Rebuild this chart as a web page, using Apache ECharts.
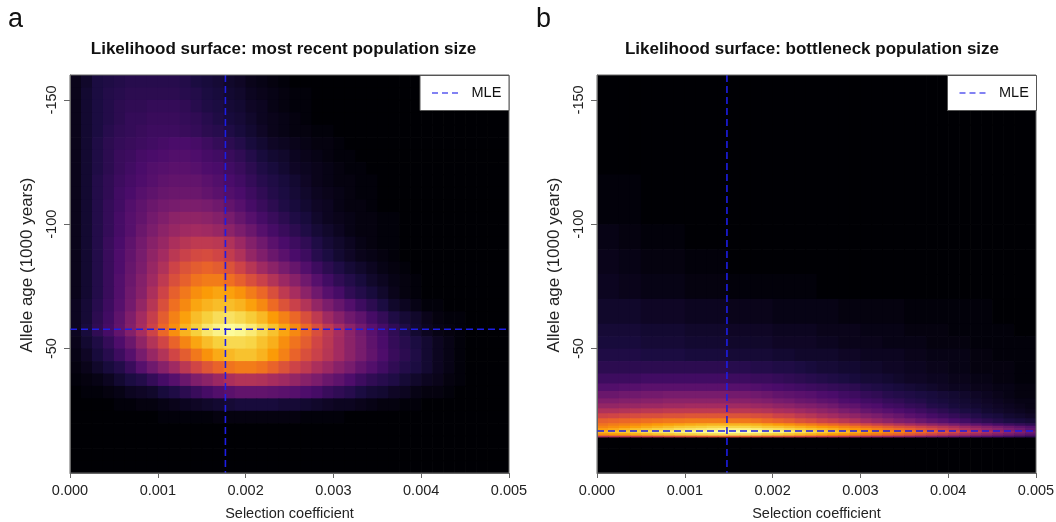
<!DOCTYPE html>
<html lang="en">
<head>
    <meta charset="UTF-8">
    <title>Likelihood surfaces</title>
    <script src="https://cdn.jsdelivr.net/npm/echarts@6/dist/echarts.min.js"></script>
    <style>
        body {
            margin: 0;
            background: #fff;
        }
        #main {
            width: 1056px;
            height: 522px;
        }
    </style>
</head>
<body>
<div id="main"></div>

<script>
    // cell edges on the selection coefficient axis (both panels)
    const selEdges = [0, 0.000125, 0.00025, 0.000375, 0.0005, 0.000625, 0.00075, 0.000875, 0.001,
        0.001125, 0.00125, 0.001375, 0.0015, 0.001625, 0.00175, 0.001875, 0.002,
        0.002125, 0.00225, 0.002375, 0.0025, 0.002625, 0.00275, 0.002875, 0.003,
        0.003125, 0.00325, 0.003375, 0.0035, 0.003625, 0.00375, 0.003875, 0.004,
        0.004125, 0.00425, 0.004375, 0.0045, 0.004625, 0.00475, 0.004875, 0.005];

    // cell edges on the allele age axis, panel a
    const ageEdgesA = [-160, -155, -150, -145, -140, -135, -130, -125, -120, -115, -110, -105, -100, -95, -90, -85,
        -80, -75, -70, -65, -60, -55, -50, -45, -40, -35, -30, -25, -20, -15, -10, -5, 0];

    // panel a: relative likelihood (0 - 100), rows from oldest to youngest
    const surfaceA = [
        [4, 7, 11, 12, 13, 14, 14, 14, 14, 14, 13, 11, 10, 9, 7, 6, 4, 3, 2, 1, 0, 0, 0, 0, 0, 0, 0, 0, 0, 0, 0, 0, 0, 0, 0, 0, 0, 0, 0, 0],
        [4, 8, 11, 13, 14, 15, 15, 15, 15, 15, 14, 13, 11, 10, 8, 7, 5, 4, 3, 2, 1, 1, 0, 0, 0, 0, 0, 0, 0, 0, 0, 0, 0, 0, 0, 0, 0, 0, 0, 0],
        [4, 8, 11, 13, 15, 16, 16, 17, 17, 17, 16, 14, 12, 11, 9, 8, 6, 5, 3, 2, 1, 1, 0, 0, 0, 0, 0, 0, 0, 0, 0, 0, 0, 0, 0, 0, 0, 0, 0, 0],
        [4, 8, 11, 13, 15, 17, 17, 18, 18, 18, 17, 16, 14, 12, 10, 9, 7, 5, 4, 3, 2, 1, 0, 0, 0, 0, 0, 0, 0, 0, 0, 0, 0, 0, 0, 0, 0, 0, 0, 0],
        [4, 8, 11, 14, 16, 17, 18, 19, 19, 19, 18, 17, 15, 14, 12, 10, 8, 6, 4, 3, 2, 2, 1, 1, 0, 0, 0, 0, 0, 0, 0, 0, 0, 0, 0, 0, 0, 0, 0, 0],
        [4, 8, 12, 15, 17, 18, 19, 20, 21, 22, 22, 21, 19, 17, 15, 13, 10, 8, 6, 5, 4, 3, 2, 2, 1, 0, 0, 0, 0, 0, 0, 0, 0, 0, 0, 0, 0, 0, 0, 0],
        [4, 8, 12, 15, 18, 19, 21, 22, 23, 24, 24, 23, 21, 20, 18, 16, 13, 10, 8, 7, 5, 4, 3, 2, 1, 1, 0, 0, 0, 0, 0, 0, 0, 0, 0, 0, 0, 0, 0, 0],
        [4, 8, 12, 15, 18, 20, 22, 24, 25, 26, 26, 25, 23, 22, 20, 18, 15, 12, 10, 8, 6, 5, 4, 3, 2, 1, 1, 0, 0, 0, 0, 0, 0, 0, 0, 0, 0, 0, 0, 0],
        [4, 8, 13, 16, 19, 21, 23, 25, 27, 28, 28, 28, 26, 24, 22, 20, 17, 14, 12, 10, 8, 6, 4, 3, 2, 2, 1, 1, 0, 0, 0, 0, 0, 0, 0, 0, 0, 0, 0, 0],
        [4, 8, 13, 16, 20, 22, 25, 27, 29, 30, 30, 30, 28, 26, 24, 22, 19, 16, 13, 11, 9, 7, 5, 4, 3, 2, 1, 1, 0, 0, 0, 0, 0, 0, 0, 0, 0, 0, 0, 0],
        [4, 8, 13, 17, 20, 24, 27, 30, 32, 33, 34, 34, 33, 31, 28, 25, 21, 18, 15, 12, 10, 8, 6, 5, 3, 2, 2, 1, 0, 0, 0, 0, 0, 0, 0, 0, 0, 0, 0, 0],
        [4, 8, 13, 17, 21, 25, 28, 32, 35, 38, 39, 39, 38, 36, 33, 29, 25, 21, 18, 15, 12, 10, 7, 5, 4, 3, 2, 2, 1, 1, 0, 0, 0, 0, 0, 0, 0, 0, 0, 0],
        [4, 8, 13, 17, 21, 25, 30, 34, 38, 41, 43, 44, 43, 41, 38, 34, 30, 25, 21, 18, 15, 12, 9, 7, 5, 3, 2, 2, 1, 1, 0, 0, 0, 0, 0, 0, 0, 0, 0, 0],
        [4, 8, 13, 18, 22, 27, 32, 37, 41, 46, 49, 51, 51, 50, 47, 42, 36, 31, 26, 22, 19, 16, 12, 9, 7, 5, 3, 2, 1, 1, 0, 0, 0, 0, 0, 0, 0, 0, 0, 0],
        [4, 8, 13, 18, 23, 28, 33, 39, 44, 50, 54, 57, 58, 56, 52, 47, 40, 35, 30, 26, 22, 19, 14, 11, 8, 6, 4, 3, 2, 1, 0, 0, 0, 0, 0, 0, 0, 0, 0, 0],
        [4, 8, 13, 18, 23, 29, 34, 41, 47, 55, 60, 63, 65, 63, 60, 55, 49, 43, 38, 33, 29, 24, 19, 15, 12, 9, 7, 5, 3, 2, 1, 0, 0, 0, 0, 0, 0, 0, 0, 0],
        [4, 8, 13, 18, 24, 30, 36, 43, 51, 59, 64, 69, 71, 71, 68, 64, 59, 54, 48, 42, 37, 31, 25, 20, 16, 13, 10, 7, 5, 3, 2, 1, 0, 0, 0, 0, 0, 0, 0, 0],
        [4, 8, 13, 18, 24, 31, 37, 46, 55, 64, 70, 75, 78, 80, 79, 76, 71, 66, 59, 51, 45, 38, 31, 25, 21, 16, 13, 10, 7, 4, 2, 1, 0, 0, 0, 0, 0, 0, 0, 0],
        [5, 9, 14, 19, 25, 32, 40, 49, 59, 68, 74, 80, 83, 85, 85, 83, 79, 74, 67, 60, 54, 48, 40, 34, 29, 24, 19, 15, 11, 7, 5, 3, 1, 1, 0, 0, 0, 0, 0, 0],
        [5, 9, 15, 20, 27, 35, 44, 53, 63, 72, 79, 85, 89, 92, 93, 91, 88, 84, 78, 72, 66, 59, 51, 43, 37, 31, 27, 21, 17, 12, 9, 7, 4, 2, 1, 1, 0, 0, 0, 0],
        [5, 10, 16, 21, 28, 36, 45, 55, 66, 75, 83, 89, 94, 97, 99, 98, 95, 91, 86, 80, 74, 67, 59, 51, 45, 38, 32, 26, 21, 16, 12, 8, 5, 3, 2, 1, 0, 0, 0, 0],
        [4, 8, 12, 17, 23, 30, 39, 48, 56, 65, 73, 80, 85, 89, 91, 91, 90, 86, 82, 75, 69, 63, 56, 50, 44, 38, 33, 27, 22, 17, 14, 11, 8, 5, 3, 1, 0, 0, 0, 0],
        [3, 6, 10, 14, 19, 25, 33, 41, 48, 56, 63, 70, 76, 81, 84, 86, 86, 83, 78, 72, 65, 59, 54, 49, 44, 38, 33, 28, 23, 18, 15, 12, 8, 5, 3, 1, 0, 0, 0, 0],
        [2, 4, 7, 10, 13, 18, 25, 31, 37, 43, 50, 56, 61, 65, 69, 71, 71, 69, 65, 60, 55, 51, 46, 42, 37, 33, 28, 24, 20, 16, 13, 11, 8, 5, 3, 1, 0, 0, 0, 0],
        [1, 2, 3, 5, 8, 11, 13, 17, 21, 25, 30, 35, 38, 42, 46, 48, 48, 47, 45, 43, 40, 37, 34, 30, 27, 23, 19, 16, 14, 12, 9, 7, 5, 4, 2, 1, 0, 0, 0, 0],
        [0, 1, 1, 2, 3, 5, 6, 7, 10, 12, 15, 18, 21, 24, 26, 28, 28, 28, 27, 26, 25, 23, 21, 18, 16, 14, 11, 9, 8, 6, 5, 3, 2, 2, 1, 0, 0, 0, 0, 0],
        [0, 0, 0, 0, 1, 1, 2, 2, 3, 4, 5, 6, 7, 8, 9, 10, 10, 10, 10, 9, 9, 8, 7, 6, 5, 5, 4, 3, 2, 2, 1, 1, 0, 0, 0, 0, 0, 0, 0, 0],
        [0, 0, 0, 0, 0, 0, 0, 0, 1, 1, 1, 1, 1, 2, 2, 2, 2, 2, 2, 2, 2, 1, 1, 1, 1, 0, 0, 0, 0, 0, 0, 0, 0, 0, 0, 0, 0, 0, 0, 0],
        [0, 0, 0, 0, 0, 0, 0, 0, 0, 0, 0, 0, 0, 0, 0, 0, 0, 0, 0, 0, 0, 0, 0, 0, 0, 0, 0, 0, 0, 0, 0, 0, 0, 0, 0, 0, 0, 0, 0, 0],
        [0, 0, 0, 0, 0, 0, 0, 0, 0, 0, 0, 0, 0, 0, 0, 0, 0, 0, 0, 0, 0, 0, 0, 0, 0, 0, 0, 0, 0, 0, 0, 0, 0, 0, 0, 0, 0, 0, 0, 0],
        [0, 0, 0, 0, 0, 0, 0, 0, 0, 0, 0, 0, 0, 0, 0, 0, 0, 0, 0, 0, 0, 0, 0, 0, 0, 0, 0, 0, 0, 0, 0, 0, 0, 0, 0, 0, 0, 0, 0, 0],
        [0, 0, 0, 0, 0, 0, 0, 0, 0, 0, 0, 0, 0, 0, 0, 0, 0, 0, 0, 0, 0, 0, 0, 0, 0, 0, 0, 0, 0, 0, 0, 0, 0, 0, 0, 0, 0, 0, 0, 0]
    ];

    // cell edges on the allele age axis, panel b (finer near the narrow ridge)
    const ageEdgesB = [-160, -140, -120, -100, -90, -80, -70, -60, -55, -50, -45, -40, -36, -33, -30, -28, -26,
        -24, -22, -20, -19, -18, -17, -16, -15, -14.3, -10, 0];

    // panel b: relative likelihood (0 - 100)
    const surfaceB = [
        [0, 0, 0, 0, 0, 0, 0, 0, 0, 0, 0, 0, 0, 0, 0, 0, 0, 0, 0, 0, 0, 0, 0, 0, 0, 0, 0, 0, 0, 0, 0, 0, 0, 0, 0, 0, 0, 0, 0, 0],
        [0, 0, 0, 0, 0, 0, 0, 0, 0, 0, 0, 0, 0, 0, 0, 0, 0, 0, 0, 0, 0, 0, 0, 0, 0, 0, 0, 0, 0, 0, 0, 0, 0, 0, 0, 0, 0, 0, 0, 0],
        [1, 1, 1, 1, 0, 0, 0, 0, 0, 0, 0, 0, 0, 0, 0, 0, 0, 0, 0, 0, 0, 0, 0, 0, 0, 0, 0, 0, 0, 0, 0, 0, 0, 0, 0, 0, 0, 0, 0, 0],
        [3, 3, 2, 2, 1, 1, 1, 1, 0, 0, 0, 0, 0, 0, 0, 0, 0, 0, 0, 0, 0, 0, 0, 0, 0, 0, 0, 0, 0, 0, 0, 0, 0, 0, 0, 0, 0, 0, 0, 0],
        [4, 4, 3, 3, 2, 2, 2, 2, 1, 1, 1, 1, 0, 0, 0, 0, 0, 0, 0, 0, 0, 0, 0, 0, 0, 0, 0, 0, 0, 0, 0, 0, 0, 0, 0, 0, 0, 0, 0, 0],
        [5, 5, 4, 4, 3, 3, 3, 3, 2, 2, 2, 2, 1, 1, 1, 1, 1, 1, 1, 1, 0, 0, 0, 0, 0, 0, 0, 0, 0, 0, 0, 0, 0, 0, 0, 0, 0, 0, 0, 0],
        [7, 7, 7, 7, 6, 6, 6, 6, 5, 5, 5, 5, 4, 4, 4, 4, 3, 3, 3, 3, 3, 3, 2, 2, 2, 2, 2, 2, 1, 1, 1, 1, 1, 1, 1, 1, 0, 0, 0, 0],
        [9, 9, 9, 9, 8, 8, 8, 8, 7, 7, 7, 7, 6, 6, 6, 6, 5, 5, 5, 5, 4, 4, 4, 4, 3, 3, 3, 3, 2, 2, 2, 2, 1, 1, 1, 1, 1, 1, 0, 0],
        [10, 10, 10, 10, 9, 9, 9, 9, 8, 8, 8, 8, 7, 7, 7, 7, 6, 6, 6, 6, 5, 5, 4, 4, 4, 4, 3, 3, 3, 3, 2, 2, 2, 2, 1, 1, 1, 1, 1, 1],
        [12, 12, 12, 12, 11, 11, 11, 11, 10, 10, 10, 10, 9, 9, 9, 9, 8, 8, 7, 7, 7, 7, 6, 6, 5, 5, 5, 5, 4, 4, 3, 3, 3, 3, 2, 2, 1, 1, 1, 1],
        [15, 15, 15, 15, 15, 15, 15, 15, 15, 15, 15, 15, 14, 14, 13, 13, 12, 12, 11, 10, 9, 9, 8, 8, 7, 7, 6, 6, 5, 5, 4, 4, 3, 3, 2, 2, 2, 2, 1, 1],
        [19, 19, 19, 19, 20, 20, 20, 20, 20, 20, 20, 20, 19, 19, 18, 18, 17, 16, 15, 14, 13, 12, 11, 10, 9, 9, 8, 7, 6, 6, 5, 5, 4, 4, 3, 3, 2, 2, 1, 1],
        [24, 24, 25, 25, 26, 26, 26, 26, 26, 26, 26, 26, 25, 25, 24, 23, 22, 21, 20, 19, 18, 17, 16, 15, 13, 12, 11, 10, 9, 8, 7, 6, 5, 5, 4, 4, 3, 3, 2, 2],
        [30, 30, 31, 31, 32, 32, 33, 33, 33, 33, 33, 33, 32, 32, 31, 30, 28, 27, 26, 25, 23, 22, 20, 19, 17, 16, 14, 13, 12, 11, 10, 9, 8, 7, 6, 5, 4, 3, 2, 2],
        [35, 35, 36, 36, 37, 37, 38, 38, 38, 38, 38, 38, 37, 37, 36, 35, 33, 32, 30, 29, 27, 26, 23, 22, 20, 19, 17, 16, 14, 13, 11, 10, 9, 8, 7, 6, 5, 4, 3, 3],
        [40, 40, 41, 41, 42, 42, 43, 43, 44, 44, 44, 44, 43, 43, 42, 41, 39, 38, 36, 35, 33, 31, 28, 27, 24, 23, 20, 19, 17, 16, 13, 12, 10, 9, 8, 7, 6, 5, 4, 3],
        [47, 47, 48, 49, 50, 50, 51, 51, 51, 51, 51, 51, 50, 50, 49, 48, 46, 45, 43, 41, 39, 37, 34, 32, 29, 27, 25, 23, 21, 19, 17, 15, 13, 11, 10, 8, 7, 6, 5, 4],
        [55, 56, 57, 58, 59, 59, 60, 60, 61, 61, 61, 61, 60, 60, 59, 58, 55, 54, 51, 49, 46, 44, 41, 39, 36, 34, 31, 29, 26, 24, 21, 19, 17, 15, 13, 11, 10, 8, 7, 6],
        [64, 65, 66, 67, 68, 69, 70, 70, 71, 71, 71, 71, 70, 70, 69, 67, 65, 63, 60, 58, 55, 53, 50, 47, 44, 41, 38, 35, 33, 30, 27, 25, 22, 20, 17, 15, 13, 11, 10, 9],
        [69, 71, 72, 74, 76, 78, 79, 80, 81, 82, 83, 83, 83, 83, 82, 80, 78, 76, 73, 71, 68, 66, 63, 60, 57, 54, 51, 48, 45, 42, 39, 36, 33, 30, 27, 24, 21, 19, 17, 15],
        [73, 75, 77, 79, 81, 83, 85, 87, 88, 89, 90, 90, 90, 90, 89, 87, 86, 84, 82, 80, 78, 76, 73, 71, 68, 66, 63, 60, 58, 55, 52, 49, 46, 42, 39, 36, 33, 30, 27, 24],
        [79, 81, 84, 86, 88, 90, 91, 93, 94, 95, 96, 97, 97, 97, 96, 94, 93, 91, 89, 87, 85, 83, 80, 78, 76, 73, 70, 68, 65, 62, 59, 55, 52, 48, 45, 41, 38, 34, 31, 27],
        [83, 85, 87, 89, 91, 93, 94, 96, 97, 98, 99, 100, 100, 100, 99, 97, 96, 94, 92, 90, 88, 86, 84, 82, 79, 77, 74, 72, 69, 67, 64, 60, 57, 53, 50, 46, 42, 38, 35, 31],
        [75, 77, 79, 81, 83, 85, 86, 88, 89, 90, 91, 92, 92, 92, 91, 89, 88, 86, 84, 82, 80, 78, 76, 74, 71, 69, 66, 64, 61, 58, 55, 52, 48, 45, 42, 39, 35, 32, 29, 26],
        [47, 49, 51, 52, 54, 55, 57, 58, 59, 60, 61, 62, 62, 62, 61, 60, 59, 58, 56, 55, 53, 52, 50, 48, 46, 44, 42, 40, 38, 36, 34, 32, 30, 28, 26, 24, 22, 20, 18, 16],
        [0, 0, 0, 0, 0, 0, 0, 0, 0, 0, 0, 0, 0, 0, 0, 0, 0, 0, 0, 0, 0, 0, 0, 0, 0, 0, 0, 0, 0, 0, 0, 0, 0, 0, 0, 0, 0, 0, 0, 0],
        [0, 0, 0, 0, 0, 0, 0, 0, 0, 0, 0, 0, 0, 0, 0, 0, 0, 0, 0, 0, 0, 0, 0, 0, 0, 0, 0, 0, 0, 0, 0, 0, 0, 0, 0, 0, 0, 0, 0, 0]
    ];

    // maximum likelihood estimates [selection coefficient, allele age]
    const mleA = [0.00177, -57.8];
    const mleB = [0.00148, -16.9];

    const ageTicks = [-150, -100, -50];

    const inferno = ['#000004', '#1b0c42', '#4b0c6b', '#781c6d', '#a52c60',
        '#cf4446', '#ed6925', '#fb9a06', '#f7d03c', '#fcffa4'];

    const FONT = "'Liberation Sans', Arial, sans-serif";
    const mleColor = '#1d1de6';

    function toCells(xs, ys, grid) {
        const out = [];
        grid.forEach((row, i) => {
            row.forEach((v, j) => {
                out.push([xs[j], xs[j + 1], ys[i], ys[i + 1], v]);
            });
        });
        return out;
    }

    function renderCell(params, api) {
        const p0 = api.coord([api.value(0), api.value(2)]);
        const p1 = api.coord([api.value(1), api.value(3)]);
        return {
            type: 'rect',
            shape: {
                x: Math.min(p0[0], p1[0]),
                y: Math.min(p0[1], p1[1]),
                width: Math.abs(p1[0] - p0[0]) + 0.7,
                height: Math.abs(p1[1] - p0[1]) + 0.7
            },
            style: { fill: api.visual('color') }
        };
    }

    function xAxisFor(idx) {
        return {
            type: 'value', gridIndex: idx, min: 0, max: 0.005, interval: 0.001, z: 5,
            name: 'Selection coefficient', nameLocation: 'middle', nameGap: 33,
            nameTextStyle: { fontFamily: FONT, fontSize: 14.5, color: '#222' },
            axisLine: { show: true, lineStyle: { color: '#666' } },
            axisTick: { show: true, length: 5, lineStyle: { color: '#666' } },
            axisLabel: {
                fontFamily: FONT, fontSize: 14.5, color: '#222', margin: 10,
                formatter: v => v.toFixed(3)
            },
            splitLine: { show: false }
        };
    }

    function yAxisFor(idx) {
        return {
            type: 'value', gridIndex: idx, min: -160, max: 0, inverse: true, z: 5,
            name: 'Allele age (1000 years)', nameLocation: 'middle', nameGap: 34,
            nameTextStyle: {
                fontFamily: FONT, fontSize: 17, color: '#222',
                padding: [0, 0, 0, 18]
            },
            axisLine: { show: true, lineStyle: { color: '#666' } },
            axisTick: { show: true, length: 6, customValues: ageTicks, lineStyle: { color: '#666' } },
            axisLabel: {
                fontFamily: FONT, fontSize: 14.5, color: '#222', margin: 11, rotate: 90,
                customValues: ageTicks
            },
            splitLine: { show: false }
        };
    }

    function mleLines(idx, mle) {
        const style = { color: mleColor, width: 1.6, type: [7, 4] };
        return [
            {
                type: 'line', name: 'MLE', xAxisIndex: idx, yAxisIndex: idx, z: 6, silent: true,
                symbol: 'none', lineStyle: style,
                data: [[mle[0], -160], [mle[0], 0]]
            },
            {
                type: 'line', name: 'MLE', xAxisIndex: idx, yAxisIndex: idx, z: 6, silent: true,
                symbol: 'none', lineStyle: style,
                data: [[0, mle[1]], [0.005, mle[1]]]
            }
        ];
    }

    function legendBox(left) {
        return [
            {
                type: 'rect', left: left, top: 75, z: 20,
                shape: { width: 89, height: 35 },
                style: { fill: '#fff', stroke: '#555', lineWidth: 1 }
            },
            {
                type: 'line', z: 21,
                shape: { x1: left + 12.5, y1: 93, x2: left + 39, y2: 93 },
                style: { stroke: '#5a5af0', lineWidth: 1.5, lineDash: [6, 4] }
            },
            {
                type: 'text', left: left + 52, top: 85.5, z: 21,
                style: { text: 'MLE', fontFamily: FONT, fontSize: 14.5, fill: '#111' }
            }
        ];
    }

    const chart = echarts.init(document.getElementById('main'), null, { renderer: 'canvas' });

    const gridBase = {
        top: 75, width: 439, height: 398, show: true, z: 10,
        borderColor: '#666', borderWidth: 1, backgroundColor: 'transparent',
        containLabel: false, outerBoundsMode: 'none'
    };

    const option = {
        backgroundColor: '#fff',
        animation: false,
        title: [
            {
                text: 'Likelihood surface: most recent population size',
                left: 278.5, top: 36, textAlign: 'center',
                textStyle: { fontFamily: FONT, fontSize: 17, fontWeight: 'bold', color: '#111' }
            },
            {
                text: 'Likelihood surface: bottleneck population size',
                left: 807, top: 36, textAlign: 'center',
                textStyle: { fontFamily: FONT, fontSize: 17, fontWeight: 'bold', color: '#111' }
            }
        ],
        grid: [
            Object.assign({ left: 70 }, gridBase),
            Object.assign({ left: 597 }, gridBase)
        ],
        xAxis: [xAxisFor(0), xAxisFor(1)],
        yAxis: [yAxisFor(0), yAxisFor(1)],
        visualMap: {
            show: false, type: 'continuous', min: 0, max: 100, dimension: 4,
            seriesIndex: [0, 1],
            inRange: { color: inferno }
        },
        series: [
            {
                type: 'custom', xAxisIndex: 0, yAxisIndex: 0, clip: true, silent: true,
                renderItem: renderCell,
                encode: { x: [0, 1], y: [2, 3] },
                data: toCells(selEdges, ageEdgesA, surfaceA)
            },
            {
                type: 'custom', xAxisIndex: 1, yAxisIndex: 1, clip: true, silent: true,
                renderItem: renderCell,
                encode: { x: [0, 1], y: [2, 3] },
                data: toCells(selEdges, ageEdgesB, surfaceB)
            },
            ...mleLines(0, mleA),
            ...mleLines(1, mleB)
        ],
        graphic: [
            { type: 'text', left: 8, top: 6, style: { text: 'a', fontFamily: FONT, fontSize: 27, fill: '#111' } },
            { type: 'text', left: 536, top: 6, style: { text: 'b', fontFamily: FONT, fontSize: 27, fill: '#111' } },
            ...legendBox(419.5),
            ...legendBox(947)
        ]
    };

    chart.setOption(option);
</script>

</body>
</html>
